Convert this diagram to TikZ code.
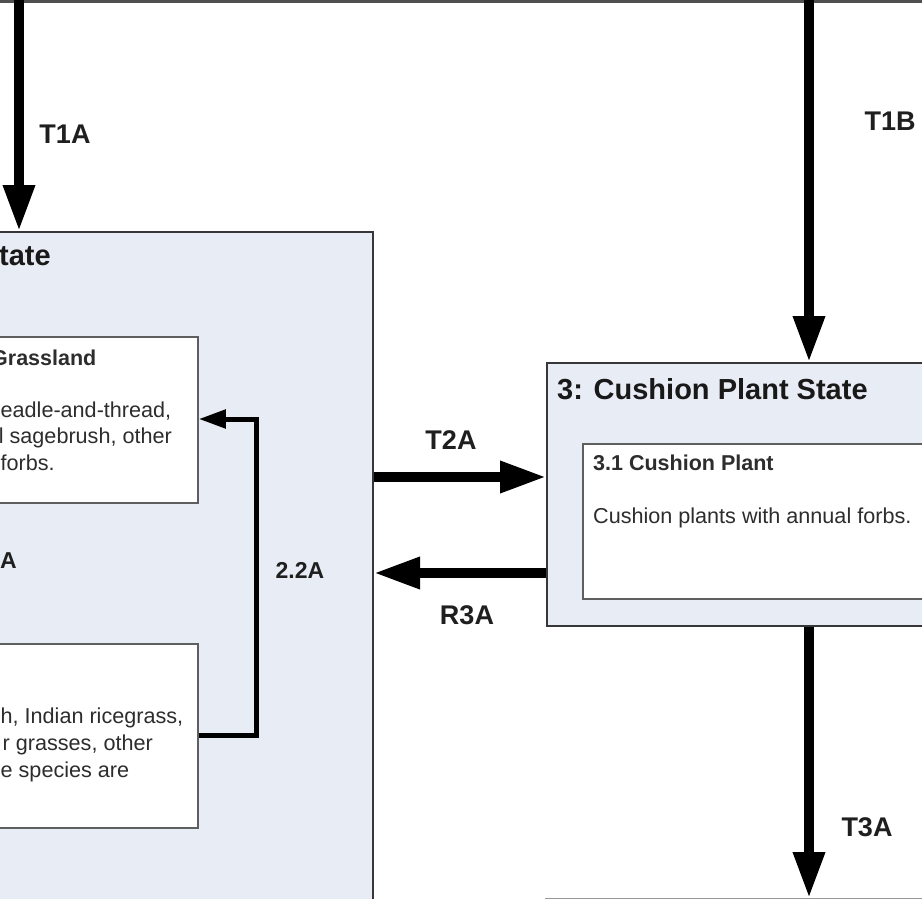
\documentclass[tikz,border=0pt]{standalone}
\usepackage{fontspec}
\setmainfont{Liberation Sans}
\usetikzlibrary{arrows.meta}
\definecolor{statefill}{RGB}{232,236,244}
\definecolor{boxline}{RGB}{55,55,55}
\definecolor{innerline}{RGB}{95,95,95}
\definecolor{bodytext}{RGB}{45,45,45}
\definecolor{topline}{RGB}{80,80,80}
\definecolor{botline}{RGB}{150,150,155}
\begin{document}
\begin{tikzpicture}[x=1pt,y=-1pt,
  statebox/.style={draw=boxline, fill=statefill, line width=2pt, inner sep=0pt, anchor=north west},
  innerbox/.style={draw=innerline, fill=white, line width=1.8pt, inner sep=0pt, anchor=north west},
  topbox/.style={draw=topline, fill=white, line width=3pt, inner sep=0pt},
  botbox/.style={draw=botline, fill=white, line width=2.5pt, inner sep=0pt},
  bigarrow/.style={line width=9.5pt, -{Triangle[width=30pt,length=46pt]}},
  medarrow/.style={line width=5pt, line join=miter, -{Triangle[width=18pt,length=27pt]}},
  lbl/.style={font=\fontsize{27}{30}\selectfont\bfseries, text=black!88, inner sep=0pt},
  smalllbl/.style={font=\fontsize{23}{26}\selectfont\bfseries, text=black!88, inner sep=0pt},
  titletext/.style={font=\fontsize{29}{33}\selectfont\bfseries, text=black!90, inner sep=0pt},
  subtitle/.style={font=\fontsize{21.5}{25}\selectfont\bfseries, text=bodytext, inner sep=0pt},
  bodyline/.style={font=\fontsize{21.6}{26}\selectfont, text=bodytext, inner sep=0pt}
]
\useasboundingbox (0,0) rectangle (922,899);
\fill[white] (0,0) rectangle (922,899);
\clip (0,0) rectangle (922,899);

% boxes
\node[topbox, anchor=south west, minimum width=1000pt, minimum height=100pt] (s1) at (-40,3) {};
\node[botbox, anchor=north west, minimum width=450pt, minimum height=100pt] (s4) at (545,898) {};
\node[statebox, minimum width=422pt, minimum height=719pt] (s2) at (-50,231) {};
\node[statebox, minimum width=450pt, minimum height=263pt] (s3) at (546,362) {};
\node[innerbox, minimum width=257pt, minimum height=166pt] (b21) at (-60,336) {};
\node[innerbox, minimum width=257pt, minimum height=184pt] (b22) at (-60,643) {};
\node[innerbox, minimum width=400pt, minimum height=155pt] (b31) at (582,443) {};

% texts
\node[titletext, anchor=base west] (t2) at (-1,265) {tate};
\node[titletext, anchor=base west] (t3) at (557,399) {3: Cushion Plant State};
\node[subtitle, anchor=base west] (t21) at (-9,365) {Grassland};
\node[subtitle, anchor=base west] (t31) at (593,470) {3.1 Cushion Plant};
\node[bodyline, anchor=base west] (d31) at (593,523) {Cushion plants with annual forbs.};
\node[bodyline, anchor=base west] (d21a) at (0.5,417) {eadle-and-thread,};
\node[bodyline, anchor=base east] (d21b) at (172,443) {l sagebrush, other};
\node[bodyline, anchor=base west] (d21c) at (0.5,470) {forbs.};
\node[bodyline, anchor=base west] (d22a) at (0.5,723) {h, Indian ricegrass,};
\node[bodyline, anchor=base east] (d22b) at (153,750) {r grasses, other};
\node[bodyline, anchor=base west] (d22c) at (0.5,777) {e species are};

% connector guide coordinates
\coordinate (xA) at (19,0);
\coordinate (xB) at (809,0);
\coordinate (yT2) at (0,477);
\coordinate (yR3) at (0,573);
\coordinate (k1) at (256,735);
\coordinate (k2) at (256,419);

% connectors
\draw[bigarrow] (xA |- s1.center) -- (xA |- s2.north);
\draw[bigarrow] (xB |- s1.center) -- (xB |- s3.north);
\draw[bigarrow] (xB |- s3.south) -- (xB |- s4.north);
\draw[bigarrow] (s2.east |- yT2) -- (s3.west |- yT2);
\draw[bigarrow] (s3.west |- yR3) -- (s2.east |- yR3);
\draw[medarrow] (b22.east |- k1) -- (k1) -- (k2) -- (b21.east |- k2);

% labels
\node[lbl] (lT1A) at (65,134) {T1A};
\node[lbl] (lT1B) at (890,121) {T1B};
\node[lbl] (lT2A) at (451,440) {T2A};
\node[lbl] (lR3A) at (467,615) {R3A};
\node[lbl] (lT3A) at (867,827) {T3A};
\node[smalllbl] (l22A) at (300,570) {2.2A};
\node[smalllbl, anchor=base east] (l21A) at (17,568) {A};
\end{tikzpicture}
\end{document}
